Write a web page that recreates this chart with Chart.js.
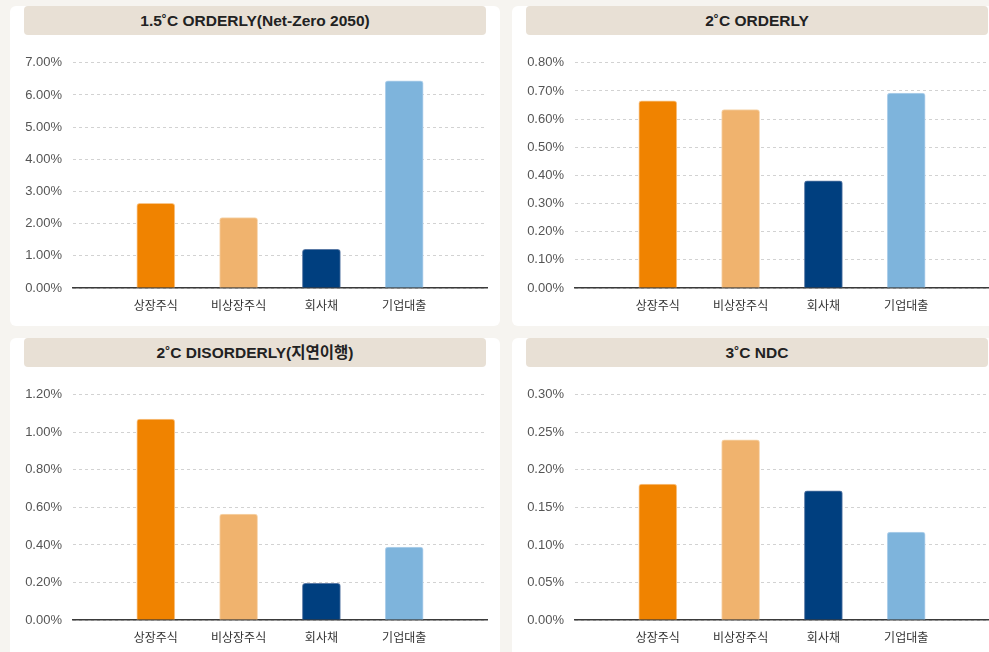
<!DOCTYPE html>
<html lang="ko">
<head>
<meta charset="UTF-8">
<title>기후 시나리오별 자산군 손실률</title>
<script src="https://cdn.jsdelivr.net/npm/chart.js@4"></script>
<style>
    html, body {
        margin: 0;
        width: 989px;
        height: 652px;
        overflow: hidden;
        background: #f6f4f0;
    }
    .panel {
        position: absolute;
        width: 490px;
        background: #fff;
        border-radius: 6px;
    }
    .title {
        position: absolute;
        left: 14px;
        top: 0;
        width: 462px;
        height: 29px;
        line-height: 30px;
        background: #e8e0d5;
        border-radius: 4px;
        text-align: center;
        font-family: "Liberation Sans", "Noto Sans CJK KR", sans-serif;
        font-weight: bold;
        font-size: 15.5px;
        color: #222;
    }
    .box {
        position: absolute;
        left: 14px;
        top: 38px;
        width: 473px;
        height: 272px;
    }
</style>
</head>
<body>
<div class="panel" style="left:10px;top:6px;height:320px">
    <div class="title">1.5˚C ORDERLY(Net-Zero 2050)</div>
    <div class="box"><canvas id="c1"></canvas></div>
</div>
<div class="panel" style="left:512px;top:6px;height:320px">
    <div class="title">2˚C ORDERLY</div>
    <div class="box"><canvas id="c2"></canvas></div>
</div>
<div class="panel" style="left:10px;top:338px;height:330px">
    <div class="title">2˚C DISORDERLY(지연이행)</div>
    <div class="box"><canvas id="c3"></canvas></div>
</div>
<div class="panel" style="left:512px;top:338px;height:330px">
    <div class="title">3˚C NDC</div>
    <div class="box"><canvas id="c4"></canvas></div>
</div>
<script>
// 자산군
const categories = ['상장주식', '비상장주식', '회사채', '기업대출'];

// 시나리오별 손실률 (%)
const netZero2050 = [2.63, 2.19, 1.20, 6.44];
const orderly2 = [0.665, 0.634, 0.381, 0.692];
const disorderly2 = [1.07, 0.565, 0.195, 0.388];
const ndc3 = [0.181, 0.240, 0.172, 0.117];

// y축 최대값 / 간격
const yMax = [7, 0.8, 1.2, 0.3];
const yStep = [1, 0.1, 0.2, 0.05];

const barColors = ['#f08300', '#f0b36e', '#003f7f', '#7eb4dc'];
const barEdges = ['#f8c68c', '#f7d6ae', '#5a7aa6', '#b5d3ec'];

function makeChart(id, values, max, step) {
    // 양쪽에 빈 칸을 둬서 막대가 가운데로 모이게
    const labels = [''].concat(categories, ['']);
    const data = [null].concat(values, [null]);
    const bg = ['#fff'].concat(barColors, ['#fff']);
    const bd = ['#fff'].concat(barEdges, ['#fff']);

    return new Chart(document.getElementById(id), {
        type: 'bar',
        data: {
            labels: labels,
            datasets: [{
                data: data,
                backgroundColor: bg,
                borderColor: bd,
                borderWidth: {top: 1, left: 1, right: 1, bottom: 0},
                borderRadius: {topLeft: 3, topRight: 3},
                borderSkipped: 'bottom',
                barThickness: 38
            }]
        },
        options: {
            responsive: true,
            maintainAspectRatio: false,
            animation: false,
            layout: { padding: 0 },
            plugins: {
                legend: { display: false },
                tooltip: { enabled: false }
            },
            scales: {
                x: {
                    offset: false,
                    grid: { display: false, drawTicks: false },
                    border: { display: true, color: '#3a3a3a', width: 1.5 },
                    ticks: {
                        autoSkip: false,
                        maxRotation: 0,
                        padding: 10,
                        color: '#333',
                        font: { family: '"Noto Sans CJK KR", sans-serif', size: 12 }
                    },
                    afterFit: (s) => { s.height = 28; }
                },
                y: {
                    min: 0,
                    max: max,
                    grid: {
                        color: '#d2d2d2',
                        lineWidth: 1,
                        drawTicks: false
                    },
                    border: { display: false, dash: [3, 3] },
                    ticks: {
                        stepSize: step,
                        padding: 11,
                        color: '#555',
                        font: { family: '"Liberation Sans", sans-serif', size: 13 },
                        callback: (v) => v.toFixed(2) + '%'
                    },
                    afterFit: (s) => { s.width = 49; }
                }
            }
        }
    });
}

makeChart('c1', netZero2050, yMax[0], yStep[0]);
makeChart('c2', orderly2, yMax[1], yStep[1]);
makeChart('c3', disorderly2, yMax[2], yStep[2]);
makeChart('c4', ndc3, yMax[3], yStep[3]);
</script>
</body>
</html>
